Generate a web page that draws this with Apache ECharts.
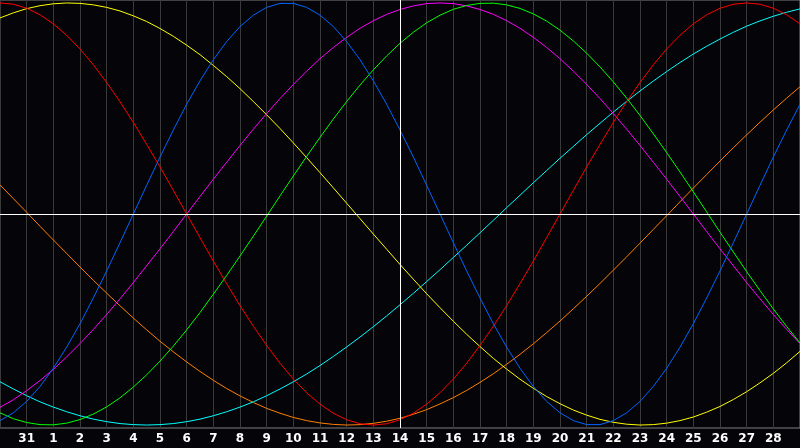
<!DOCTYPE html>
<html>
<head>
<meta charset="utf-8">
<script src="https://cdn.jsdelivr.net/npm/echarts@6/dist/echarts.min.js"></script>
<style>
html,body{margin:0;padding:0;background:#050409;}
#chart{width:800px;height:448px;}
</style>
</head>
<body>
<div id="chart"></div>
<script>
// Day labels for chart positions 0..30 (first and last are not shown)
const dayLabels = ['30','31','1','2','3','4','5','6','7','8','9','10','11','12','13','14','15','16','17','18','19','20','21','22','23','24','25','26','27','28','29'];

// Readings every half day, positions 0, 0.5, 1, ... 30 (percent)
const physical = [-97.9,-94.2,-88.8,-81.7,-73.1,-63.1,-52.0,-39.8,-27.0,-13.6,0,13.6,27.0,39.8,52.0,63.1,73.1,81.7,88.8,94.2,97.9,99.8,99.8,97.9,94.2,88.8,81.7,73.1,63.1,52.0,39.8,27.0,13.6,0,-13.6,-27.0,-39.8,-52.0,-63.1,-73.1,-81.7,-88.8,-94.2,-97.9,-99.8,-99.8,-97.9,-94.2,-88.8,-81.7,-73.1,-63.1,-52.0,-39.8,-27.0,-13.6,0,13.6,27.0,39.8,52.0];
const emotional = [100,99.4,97.5,94.4,90.1,84.7,78.2,70.7,62.3,53.2,43.4,33.0,22.3,11.2,0,-11.2,-22.3,-33.0,-43.4,-53.2,-62.3,-70.7,-78.2,-84.7,-90.1,-94.4,-97.5,-99.4,-100,-99.4,-97.5,-94.4,-90.1,-84.7,-78.2,-70.7,-62.3,-53.2,-43.4,-33.0,-22.3,-11.2,0,11.2,22.3,33.0,43.4,53.2,62.3,70.7,78.2,84.7,90.1,94.4,97.5,99.4,100,99.4,97.5,94.4,90.1];
const intellectual = [-94.2,-97.0,-98.8,-99.8,-99.9,-99.1,-97.4,-94.8,-91.4,-87.1,-82.0,-76.2,-69.7,-62.6,-54.9,-46.7,-38.0,-29.1,-19.9,-10.5,-1.0,8.6,18.0,27.3,36.3,45.0,53.3,61.1,68.3,74.9,80.9,86.1,90.6,94.2,97.0,98.8,99.8,99.9,99.1,97.4,94.8,91.4,87.1,82.0,76.2,69.7,62.6,54.9,46.7,38.0,29.1,19.9,10.5,1.0,-8.6,-18.0,-27.3,-36.3,-45.0,-53.3,-61.1];
const intuitive = [-91.6,-88.0,-83.7,-78.9,-73.6,-67.7,-61.4,-54.7,-47.6,-40.2,-32.5,-24.5,-16.5,-8.3,0,8.3,16.5,24.5,32.5,40.2,47.6,54.7,61.4,67.7,73.6,78.9,83.7,88.0,91.6,94.6,96.9,98.6,99.7,100,99.7,98.6,96.9,94.6,91.6,88.0,83.7,78.9,73.6,67.7,61.4,54.7,47.6,40.2,32.5,24.5,16.5,8.3,0,-8.3,-16.5,-24.5,-32.5,-40.2,-47.6,-54.7,-61.4];
const aesthetic = [92.9,95.3,97.3,98.7,99.6,100,99.8,99.1,97.9,96.2,93.9,91.2,87.9,84.2,80.0,75.5,70.4,65.1,59.4,53.3,47.0,40.5,33.7,26.7,19.6,12.4,5.1,-2.2,-9.5,-16.7,-23.9,-30.9,-37.8,-44.4,-50.8,-57.0,-62.8,-68.4,-73.5,-78.3,-82.6,-86.5,-89.9,-92.9,-95.3,-97.3,-98.7,-99.6,-100,-99.8,-99.1,-97.9,-96.2,-93.9,-91.2,-87.9,-84.2,-80.0,-75.5,-70.5,-65.1];
const awareness = [13.8,7.3,0.8,-5.8,-12.3,-18.7,-25.1,-31.4,-37.5,-43.5,-49.3,-54.9,-60.3,-65.3,-70.1,-74.6,-78.8,-82.7,-86.2,-89.3,-92.1,-94.4,-96.4,-97.9,-99.0,-99.7,-100,-99.8,-99.2,-98.2,-96.8,-94.9,-92.7,-90.0,-87.0,-83.6,-79.8,-75.7,-71.2,-66.5,-61.5,-56.2,-50.7,-44.9,-39.0,-32.9,-26.6,-20.3,-13.8,-7.3,-0.8,5.8,12.3,18.7,25.1,31.4,37.5,43.5,49.3,54.9,60.3];
const spiritual = [-79.5,-82.9,-86.1,-89.0,-91.5,-93.7,-95.6,-97.2,-98.4,-99.3,-99.8,-100,-99.8,-99.3,-98.4,-97.2,-95.6,-93.7,-91.5,-89.0,-86.1,-82.9,-79.5,-75.8,-71.8,-67.5,-63.0,-58.3,-53.4,-48.3,-43.0,-37.6,-32.0,-26.4,-20.6,-14.8,-8.9,-3.0,3.0,8.9,14.8,20.6,26.4,32.0,37.6,43.0,48.3,53.4,58.3,63.0,67.5,71.8,75.8,79.5,82.9,86.1,89.0,91.5,93.7,95.6,97.2];

const sampleStep = 0.5;
const todayPos = 15;

const lines = [
  {name:'Awareness', data: awareness, color:'#ff8000'},
  {name:'Spiritual', data: spiritual, color:'#00ffff'},
  {name:'Aesthetic', data: aesthetic, color:'#ffff00'},
  {name:'Intuitive', data: intuitive, color:'#ff00ff'},
  {name:'Intellectual', data: intellectual, color:'#00ff00'},
  {name:'Emotional', data: emotional, color:'#ff0000'},
  {name:'Physical', data: physical, color:'#0066ff'}
];

const chart = echarts.init(document.getElementById('chart'));
const series = lines.map(function(l){
  return {
    name: l.name, type:'line', smooth: false, symbol:'none',
    data: l.data.map(function(v, i){ return [i * sampleStep, v]; }),
    lineStyle:{color:l.color, width:1}, itemStyle:{color:l.color},
    silent:true, animation:false, z: 3
  };
});
series.unshift({
  name:'ref', type:'line', data: [], silent:true, animation:false, z:2,
  markLine:{
    silent:true, symbol:'none', animation:false,
    label:{show:false},
    lineStyle:{color:'#ffffff', width:1, type:'solid'},
    data:[{yAxis:0},{xAxis:todayPos}]
  }
});

chart.setOption({
  backgroundColor:'#050409',
  animation:false,
  grid:{left:0, right:0, top:0, bottom:20, show:true, borderColor:'#808080', borderWidth:1, backgroundColor:'#050409'},
  xAxis:{
    type:'value', min:0, max:dayLabels.length - 1, interval:1,
    axisLine:{show:true, lineStyle:{color:'#a0a0a0', width:1}},
    axisTick:{show:false},
    axisLabel:{
      color:'#ffffff', fontWeight:'bold', fontSize:12, fontFamily:'DejaVu Sans', margin:5,
      showMinLabel:false, showMaxLabel:false,
      formatter:function(v){ return (v > 0 && v < dayLabels.length - 1) ? dayLabels[v] : ''; }
    },
    splitLine:{show:true, lineStyle:{color:'#3a3a3a', width:1}}
  },
  yAxis:{
    type:'value', min:-101.4, max:101.4,
    axisLine:{show:false}, axisTick:{show:false}, axisLabel:{show:false}, splitLine:{show:false}
  },
  series: series
});
</script>
</body>
</html>
